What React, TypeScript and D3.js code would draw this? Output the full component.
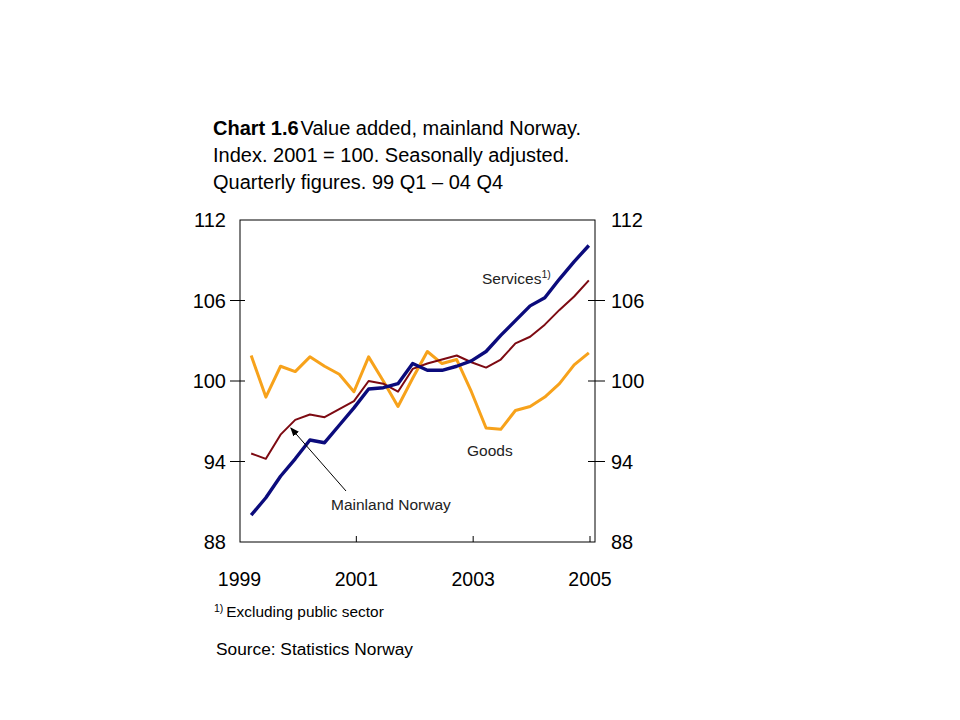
import React from 'react'
import * as d3 from 'd3'

// 99 Q1 - 04 Q4, index 2001 = 100
const quarters = [
  '99Q1', '99Q2', '99Q3', '99Q4', '00Q1', '00Q2', '00Q3', '00Q4',
  '01Q1', '01Q2', '01Q3', '01Q4', '02Q1', '02Q2', '02Q3', '02Q4',
  '03Q1', '03Q2', '03Q3', '03Q4', '04Q1', '04Q2', '04Q3', '04Q4',
]
const goods = [
  101.9, 98.8, 101.1, 100.7, 101.8, 101.1, 100.5, 99.2,
  101.8, 100.0, 98.1, 100.2, 102.2, 101.3, 101.6, 99.2,
  96.5, 96.4, 97.8, 98.1, 98.8, 99.8, 101.2, 102.1,
]
const mainland = [
  94.6, 94.2, 96.0, 97.1, 97.5, 97.3, 97.9, 98.5,
  100.0, 99.8, 99.2, 100.9, 101.3, 101.6, 101.9, 101.4,
  101.0, 101.6, 102.8, 103.3, 104.2, 105.3, 106.3, 107.5,
]
const services = [
  90.0, 91.3, 92.9, 94.2, 95.6, 95.4, 96.7, 98.0,
  99.4, 99.5, 99.8, 101.3, 100.8, 100.8, 101.1, 101.5,
  102.2, 103.4, 104.5, 105.6, 106.2, 107.6, 108.9, 110.1,
]
const yTicks = [88, 94, 100, 106, 112]
const xTicks = [1999, 2001, 2003, 2005]
// where the first and last quarter sit on the year axis
const firstQuarterAt = 1999.2
const lastQuarterAt = 2004.98

const font = '"Liberation Sans", Arial, sans-serif'

export default function App() {
  const left = 240
  const right = 595
  const top = 220
  const bottom = 542

  const x = d3.scaleLinear().domain([1999, 2005]).range([239.5, 590])
  const qx = d3.scaleLinear()
    .domain([0, quarters.length - 1])
    .range([x(firstQuarterAt), x(lastQuarterAt)])
  const y = d3.scaleLinear().domain([88, 112]).range([bottom, top])

  const line = d3.line<number>()
    .x((_, i) => qx(i))
    .y(d => y(d))

  const series = [
    { name: 'goods', data: goods, color: '#f7a21b', width: 3 },
    { name: 'mainland', data: mainland, color: '#7d0a12', width: 2 },
    { name: 'services', data: services, color: '#0b0b7c', width: 3.4 },
  ]

  return (
    <svg width={960} height={720} style={{ position: 'absolute', left: 0, top: 0, background: '#fff' }}>
      <defs>
        <marker id="arrow" viewBox="0 0 10 10" refX="9" refY="5" markerWidth="9" markerHeight="9" orient="auto-start-reverse">
          <path d="M0,1 L10,5 L0,9 Z" fill="#000" />
        </marker>
      </defs>

      {/* title */}
      <g fontFamily={font} fontSize={20} fill="#000">
        <text x={213} y={135}>
          <tspan fontWeight="bold">Chart 1.6</tspan>
          <tspan dx={2}>Value added, mainland Norway.</tspan>
        </text>
        <text x={213} y={162}>Index. 2001 = 100. Seasonally adjusted.</text>
        <text x={213} y={189}>Quarterly figures. 99 Q1 – 04 Q4</text>
      </g>

      {/* frame */}
      <rect x={left} y={top} width={right - left} height={bottom - top} fill="none" stroke="#000" strokeWidth={1} />

      {/* y ticks both sides */}
      {yTicks.map(t => (
        <g key={t}>
          {t !== 88 && t !== 112 && (
            <>
              <line x1={left - 10} x2={left + 5} y1={y(t)} y2={y(t)} stroke="#000" />
              <line x1={right - 7} x2={right + 10} y1={y(t)} y2={y(t)} stroke="#000" />
            </>
          )}
          <text x={226} y={y(t)} dy="0.36em" textAnchor="end" fontFamily={font} fontSize={20}>{t}</text>
          <text x={611} y={y(t)} dy="0.36em" textAnchor="start" fontFamily={font} fontSize={20}>{t}</text>
        </g>
      ))}

      {/* x ticks */}
      {xTicks.map(t => (
        <g key={t}>
          {t !== 1999 && <line x1={x(t)} x2={x(t)} y1={bottom} y2={bottom - 6} stroke="#000" />}
          <text x={x(t)} y={586} textAnchor="middle" fontFamily={font} fontSize={19.5}>{t}</text>
        </g>
      ))}

      {/* lines */}
      {series.map(s => (
        <path key={s.name} d={line(s.data) ?? ''} fill="none" stroke={s.color} strokeWidth={s.width} strokeLinejoin="round" />
      ))}

      {/* annotations */}
      <g fontFamily={font} fontSize={15.5} fill="#222">
        <text x={482} y={284}>
          Services<tspan fontSize={10.5} dy={-6}>1)</tspan>
        </text>
        <text x={467} y={456}>Goods</text>
        <text x={331} y={510}>Mainland Norway</text>
      </g>
      <line x1={346} y1={491} x2={qx(2.7)} y2={y(96.5)} stroke="#000" strokeWidth={1} markerEnd="url(#arrow)" />

      {/* footnote & source */}
      <g fontFamily={font} fill="#000">
        <text x={214} y={617} fontSize={15.4}>
          <tspan fontSize={10.5} dy={-5}>1)</tspan>
          <tspan dy={5} dx={3}>Excluding public sector</tspan>
        </text>
        <text x={216} y={655} fontSize={17.3}>Source: Statistics Norway</text>
      </g>
    </svg>
  )
}
